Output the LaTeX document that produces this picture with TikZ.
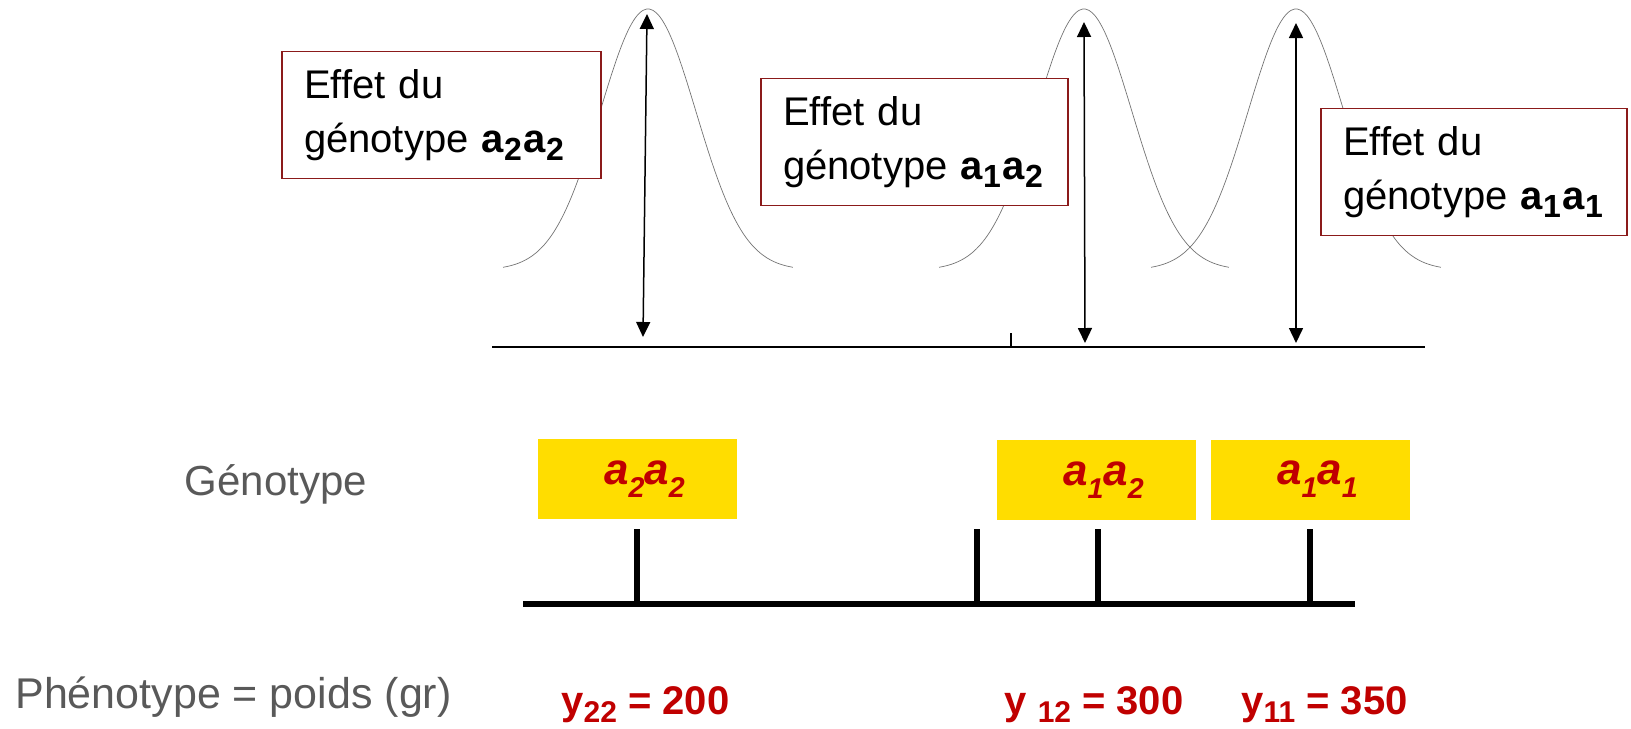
\documentclass[tikz,border=0pt]{standalone}
\usepackage{fontspec}
\setmainfont{Liberation Sans}
\usetikzlibrary{arrows.meta, positioning, calc}
\definecolor{boxred}{HTML}{8B1A1A}
\definecolor{valred}{HTML}{C00000}
\definecolor{genoyellow}{HTML}{FFDD00}
\definecolor{labelgray}{HTML}{595959}
% lowered, enlarged subscript
\newcommand{\indice}[3]{\raisebox{-#2em}{\scalebox{#1}{#3}}}
\tikzset{
  effet/.style={
    rectangle, draw=boxred, line width=0.75pt, fill=white,
    inner xsep=11pt, inner ysep=0pt, minimum height=63.5pt,
    align=left, font=\fontsize{20}{27}\selectfont
  },
  geno/.style={
    rectangle, fill=genoyellow, minimum width=99.5pt, minimum height=40pt,
    text=valred, font=\fontsize{22}{26}\selectfont\bfseries\itshape
  },
  valeur/.style={text=valred, inner sep=0pt, font=\fontsize{20}{24}\selectfont\bfseries},
  legende/.style={text=labelgray, font=\fontsize{21}{24}\selectfont},
  courbe/.style={draw=black!55, line width=0.35pt},
  fleche/.style={{Triangle[length=7.5pt,width=7pt]}-{Triangle[length=7.5pt,width=7pt]}, line width=0.75pt},
  axe/.style={line width=0.75pt},
  grosaxe/.style={line width=3pt},
  trait/.style={line width=2.6pt}
}

\begin{document}
\begin{tikzpicture}[x=0.5pt, y=-0.5pt]
\useasboundingbox (0,0) rectangle (1631,728);

% normal curves
\foreach \m in {648,1084,1296}
  \draw[courbe, domain=-3.02:3.02, samples=90, smooth]
    plot ({\m+48*\x}, {270-261*exp(-\x*\x/2)});

% effect boxes
\node[effet, text width=137.5pt] (e22) at (441.5,115)
  {Effet du\\génotype \textbf{a\indice{0.8}{0.2}{2}\kern1pt a\indice{0.8}{0.2}{2}}};
\node[effet, text width=131.5pt] (e12) at (914.5,142)
  {Effet du\\génotype \textbf{a\indice{0.8}{0.2}{1}\kern1pt a\indice{0.8}{0.2}{2}}};
\node[effet, text width=131pt] (e11) at (1474,172)
  {Effet du\\génotype \textbf{a\indice{0.8}{0.2}{1}\kern1pt a\indice{0.8}{0.2}{1}}};

% upper axis
\coordinate (axL) at (492,347);
\coordinate (axR) at (1425,347);
\coordinate (mid) at (1011,347);
\coordinate (midtop) at (1011,333);
\draw[axe] (axL) -- (axR);
\draw[axe] (mid) -- (midtop);

% effect arrows
\coordinate (top22) at (647,14);
\coordinate (bot22) at (643,337);
\coordinate (top12) at (1084,22);
\coordinate (bot12) at (1085,343);
\coordinate (top11) at (1296,23);
\coordinate (bot11) at (1296,343);
\draw[fleche] (bot22) -- (top22);
\draw[fleche] (bot12) -- (top12);
\draw[fleche] (bot11) -- (top11);

% genotype boxes
\node[legende] (geno) at (276,484) {Génotype};
\node[geno] (g22) at (637.5,479)
  {\hspace*{7pt}a\indice{0.65}{0.3}{2}a\indice{0.65}{0.3}{2}};
\node[geno] (g12) at (1096.5,480)
  {\hspace*{7pt}a\indice{0.65}{0.3}{1}a\indice{0.65}{0.3}{2}};
\node[geno] (g11) at (1310.5,479.5)
  {\hspace*{7pt}a\indice{0.65}{0.3}{1}a\indice{0.65}{0.3}{1}};

% lower axis with ticks
\coordinate (bL) at (523,604);
\coordinate (bR) at (1355,604);
\draw[grosaxe] (bL) -- (bR);
\foreach \t/\n in {637/t22, 977/tm, 1098/t12, 1310/t11} {
  \coordinate (\n) at (\t,604);
  \coordinate (\n h) at (\t,529);
  \draw[trait] (\n) -- (\n h);
}

% phenotype values
\node[legende, anchor=base west, inner xsep=0pt, font=\fontsize{21.5}{24}\selectfont] (pheno) at (15,708)
  {Phénotype = poids (gr)};
\node[valeur, anchor=base west] (y22) at (561,714)
  {y\indice{0.75}{0.2}{22} = 200};
\node[valeur, anchor=base west] (y12) at (1004,714)
  {y \indice{0.75}{0.2}{12} = 300};
\node[valeur, anchor=base west] (y11) at (1241,714)
  {y\indice{0.75}{0.2}{11} = 350};

\end{tikzpicture}
\end{document}
